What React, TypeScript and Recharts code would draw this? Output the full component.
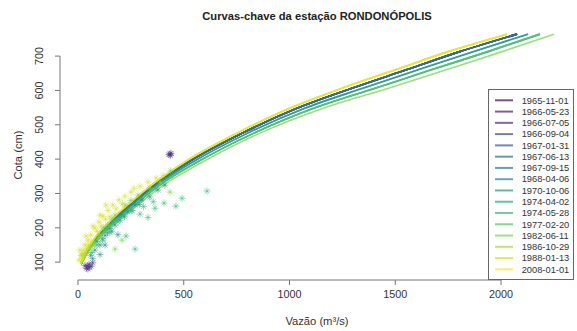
import { ComposedChart, XAxis, YAxis, Line, Scatter, ReferenceLine, Legend, Label } from 'recharts';

const datas = [
  '1965-11-01', '1966-05-23', '1966-07-05', '1966-09-04', '1967-01-31', '1967-06-13',
  '1967-09-15', '1968-04-06', '1970-10-06', '1974-04-02', '1974-05-28', '1977-02-20',
  '1982-06-11', '1986-10-29', '1988-01-13', '2008-01-01',
];
const cores = [
  '#440154', '#481A6C', '#472F7D', '#414487', '#39568C', '#31688E', '#2A788E', '#23888E',
  '#1F988B', '#22A884', '#35B779', '#54C568', '#7AD151', '#A5DB36', '#D2E21B', '#FDE725',
];
// qual curva cada data usa
const curvaDaData = ['B', 'B', 'B', 'B', 'B', 'B', 'B', 'C', 'C', 'D', 'D', 'D', 'E', 'A', 'A', 'A'];

// cotas (cm) e vazoes (m3/s)
const cotas = [95, 130, 175, 225, 275, 335, 390, 475, 548, 607, 660, 713, 764];
const vazoesCurvaA = [12, 38, 85, 160, 250, 370, 500, 750, 1000, 1250, 1500, 1750, 2028];
const vazoesCurvaB = [13, 40, 90, 169, 260, 383, 518, 775, 1035, 1298, 1552, 1805, 2076];
const vazoesCurvaC = [14, 43, 95, 178, 271, 397, 538, 800, 1072, 1350, 1608, 1868, 2128];
const vazoesCurvaD = [15, 45, 101, 189, 284, 412, 560, 829, 1114, 1408, 1670, 1938, 2184];
const vazoesCurvaE = [16, 48, 108, 200, 298, 430, 584, 858, 1160, 1472, 1740, 2005, 2251];

// medições (vazão, cota)
const medicoes1965a1966 = [
  { q: 40, h: 82 }, { q: 47, h: 80 }, { q: 55, h: 86 }, { q: 33, h: 90 }, { q: 62, h: 88 },
  { q: 52, h: 94 }, { q: 44, h: 88 }, { q: 70, h: 98 },
  { q: 435, h: 415 }, { q: 430, h: 413 }, { q: 440, h: 417 }, { q: 437, h: 411 },
];
const medicoes1967a1970 = [
  { q: 80, h: 135 }, { q: 104, h: 150 }, { q: 128, h: 178 }, { q: 151, h: 198 }, { q: 175, h: 208 },
  { q: 199, h: 222 }, { q: 236, h: 246 }, { q: 270, h: 266 }, { q: 303, h: 281 }, { q: 340, h: 290 },
  { q: 378, h: 310 }, { q: 411, h: 324 }, { q: 104, h: 122 }, { q: 128, h: 150 }, { q: 189, h: 180 },
  { q: 60, h: 120 }, { q: 90, h: 160 }, { q: 160, h: 190 }, { q: 220, h: 232 }, { q: 255, h: 250 },
  { q: 70, h: 110 }, { q: 115, h: 168 }, { q: 140, h: 185 }, { q: 205, h: 238 }, { q: 290, h: 268 },
];
const medicoes1974a1977 = [
  { q: 90, h: 150 }, { q: 118, h: 164 }, { q: 151, h: 187 }, { q: 189, h: 217 }, { q: 217, h: 237 },
  { q: 255, h: 251 }, { q: 293, h: 240 }, { q: 331, h: 230 }, { q: 364, h: 257 }, { q: 407, h: 272 },
  { q: 463, h: 263 }, { q: 492, h: 286 }, { q: 610, h: 307 }, { q: 270, h: 138 }, { q: 227, h: 176 },
  { q: 356, h: 276 }, { q: 310, h: 262 }, { q: 65, h: 128 }, { q: 135, h: 196 }, { q: 170, h: 220 },
];
const medicoes1982a1986 = [
  { q: 19, h: 120 }, { q: 47, h: 135 }, { q: 80, h: 150 }, { q: 104, h: 179 }, { q: 142, h: 208 },
  { q: 175, h: 237 }, { q: 222, h: 266 }, { q: 284, h: 295 }, { q: 340, h: 316 }, { q: 388, h: 333 },
  { q: 438, h: 366 }, { q: 435, h: 304 }, { q: 175, h: 138 }, { q: 208, h: 164 }, { q: 60, h: 145 },
  { q: 120, h: 200 }, { q: 30, h: 125 }, { q: 95, h: 170 }, { q: 160, h: 226 }, { q: 250, h: 280 },
];
const medicoes1988a2008 = [
  { q: 5, h: 106 }, { q: 14, h: 120 }, { q: 24, h: 135 }, { q: 33, h: 150 }, { q: 47, h: 164 },
  { q: 61, h: 179 }, { q: 80, h: 199 }, { q: 99, h: 217 }, { q: 118, h: 234 }, { q: 142, h: 251 },
  { q: 165, h: 266 }, { q: 194, h: 281 }, { q: 222, h: 292 }, { q: 251, h: 304 }, { q: 265, h: 315 },
  { q: 293, h: 321 }, { q: 331, h: 333 }, { q: 369, h: 345 }, { q: 402, h: 353 }, { q: 9, h: 135 },
  { q: 38, h: 176 }, { q: 71, h: 205 }, { q: 104, h: 237 }, { q: 132, h: 266 }, { q: 20, h: 110 },
  { q: 50, h: 150 }, { q: 90, h: 190 }, { q: 130, h: 225 }, { q: 180, h: 255 }, { q: 28, h: 122 },
  { q: 42, h: 140 }, { q: 65, h: 160 }, { q: 110, h: 205 }, { q: 150, h: 232 }, { q: 210, h: 270 },
];

const ticksX = [0, 500, 1000, 1500, 2000];
const ticksY = [100, 200, 300, 400, 500, 600, 700];

const vazoesPorCurva: Record<string, number[]> = {
  A: vazoesCurvaA, B: vazoesCurvaB, C: vazoesCurvaC, D: vazoesCurvaD, E: vazoesCurvaE,
};

const grupos = [
  { dados: medicoes1965a1966, cor: cores[2] },
  { dados: medicoes1967a1970, cor: cores[7] },
  { dados: medicoes1974a1977, cor: cores[10] },
  { dados: medicoes1982a1986, cor: cores[12] },
  { dados: medicoes1988a2008, cor: cores[14] },
];

const fonte = '"Liberation Sans", Arial, Helvetica, sans-serif';

const Asterisco = (props: any) => {
  const { cx, cy, fill } = props;
  const r = 3.5;
  const d = r * 0.707;
  return (
    <g stroke={fill} strokeWidth={1} strokeOpacity={0.5}>
      <line x1={cx - r} y1={cy} x2={cx + r} y2={cy} />
      <line x1={cx} y1={cy - r} x2={cx} y2={cy + r} />
      <line x1={cx - d} y1={cy - d} x2={cx + d} y2={cy + d} />
      <line x1={cx - d} y1={cy + d} x2={cx + d} y2={cy - d} />
    </g>
  );
};

const TickX = ({ x, y, payload }: any) => (
  <text x={x} y={y + 13} textAnchor="middle" fontSize={10.8} fill="#333" fontFamily={fonte}>
    {payload.value}
  </text>
);

const TickY = ({ x, y, payload }: any) => (
  <text
    x={x - 11.5}
    y={y}
    transform={`rotate(-90, ${x - 11.5}, ${y})`}
    textAnchor="middle"
    fontSize={10.8}
    fill="#333"
    fontFamily={fonte}
  >
    {payload.value}
  </text>
);

const RotuloY = ({ viewBox }: any) => {
  const x = viewBox.x + 22;
  const y = viewBox.y + viewBox.height / 2;
  return (
    <text x={x} y={y} transform={`rotate(-90, ${x}, ${y})`} textAnchor="middle" fontSize={11.2} fill="#333" fontFamily={fonte}>
      Cota (cm)
    </text>
  );
};

const Legenda = () => (
  <svg width={86} height={192} style={{ display: 'block' }}>
    <rect x={0.5} y={0.5} width={85} height={190} fill="#fff" stroke="#666" />
    {datas.map((d, i) => {
      const y = 11.3 + i * 11.27;
      return (
        <g key={d}>
          <line x1={7} x2={25} y1={y} y2={y} stroke={cores[i]} strokeOpacity={0.7} strokeWidth={2} />
          <text x={33.7} y={y + 3.3} fontSize={9.3} fill="#333" fontFamily={fonte}>
            {d}
          </text>
        </g>
      );
    })}
  </svg>
);

export default function App() {
  return (
    <div style={{ position: 'absolute', left: 0, top: 0, width: 577, height: 331, background: '#fff', fontFamily: fonte }}>
      <div
        style={{
          position: 'absolute',
          left: 317,
          top: 8.5,
          transform: 'translateX(-50%)',
          whiteSpace: 'nowrap',
          fontSize: 11.2,
          lineHeight: '14px',
          fontWeight: 'bold',
          color: '#222',
          zIndex: 2,
        }}
      >
        Curvas-chave da estação RONDONÓPOLIS
      </div>
      <ComposedChart width={577} height={331} margin={{ top: 30, right: 3, bottom: 0, left: 0 }}>
        <XAxis
          type="number"
          dataKey="q"
          domain={[-85, 2345]}
          allowDataOverflow
          ticks={ticksX}
          interval={0}
          height={51}
          axisLine={false}
          tickLine={{ stroke: '#777' }}
          tickSize={5}
          tickMargin={0}
          tick={<TickX />}
        >
          <Label value="Vazão (m³/s)" position="insideBottom" offset={6} fontSize={11.2} fill="#333" fontFamily={fonte} />
        </XAxis>
        <YAxis
          type="number"
          dataKey="h"
          domain={[48, 776]}
          allowDataOverflow
          ticks={ticksY}
          interval={0}
          width={60}
          axisLine={false}
          tickLine={{ stroke: '#777' }}
          tickSize={5}
          tickMargin={0}
          tick={<TickY />}
        >
          <Label content={<RotuloY />} />
        </YAxis>
        <ReferenceLine segment={[{ x: 0, y: 48 }, { x: 2000, y: 48 }]} stroke="#777" ifOverflow="visible" />
        <ReferenceLine segment={[{ x: -85, y: 100 }, { x: -85, y: 700 }]} stroke="#777" ifOverflow="visible" />
        {grupos.map((g, i) => (
          <Scatter
            key={'s' + i}
            data={g.dados}
            fill={g.cor}
            shape={<Asterisco />}
            isAnimationActive={false}
            legendType="none"
          />
        ))}
        {datas.map((d, i) => (
          <Line
            key={d}
            data={cotas.map((h, k) => ({ q: vazoesPorCurva[curvaDaData[i]][k], h }))}
            dataKey="h"
            type="monotone"
            stroke={cores[i]}
            strokeOpacity={0.75}
            strokeWidth={1.6}
            dot={false}
            activeDot={false}
            isAnimationActive={false}
            legendType="none"
          />
        ))}
        <Legend content={<Legenda />} layout="vertical" align="center" verticalAlign="middle" wrapperStyle={{ left: 488, top: 89, width: 86, height: 192 }} />
      </ComposedChart>
    </div>
  );
}
